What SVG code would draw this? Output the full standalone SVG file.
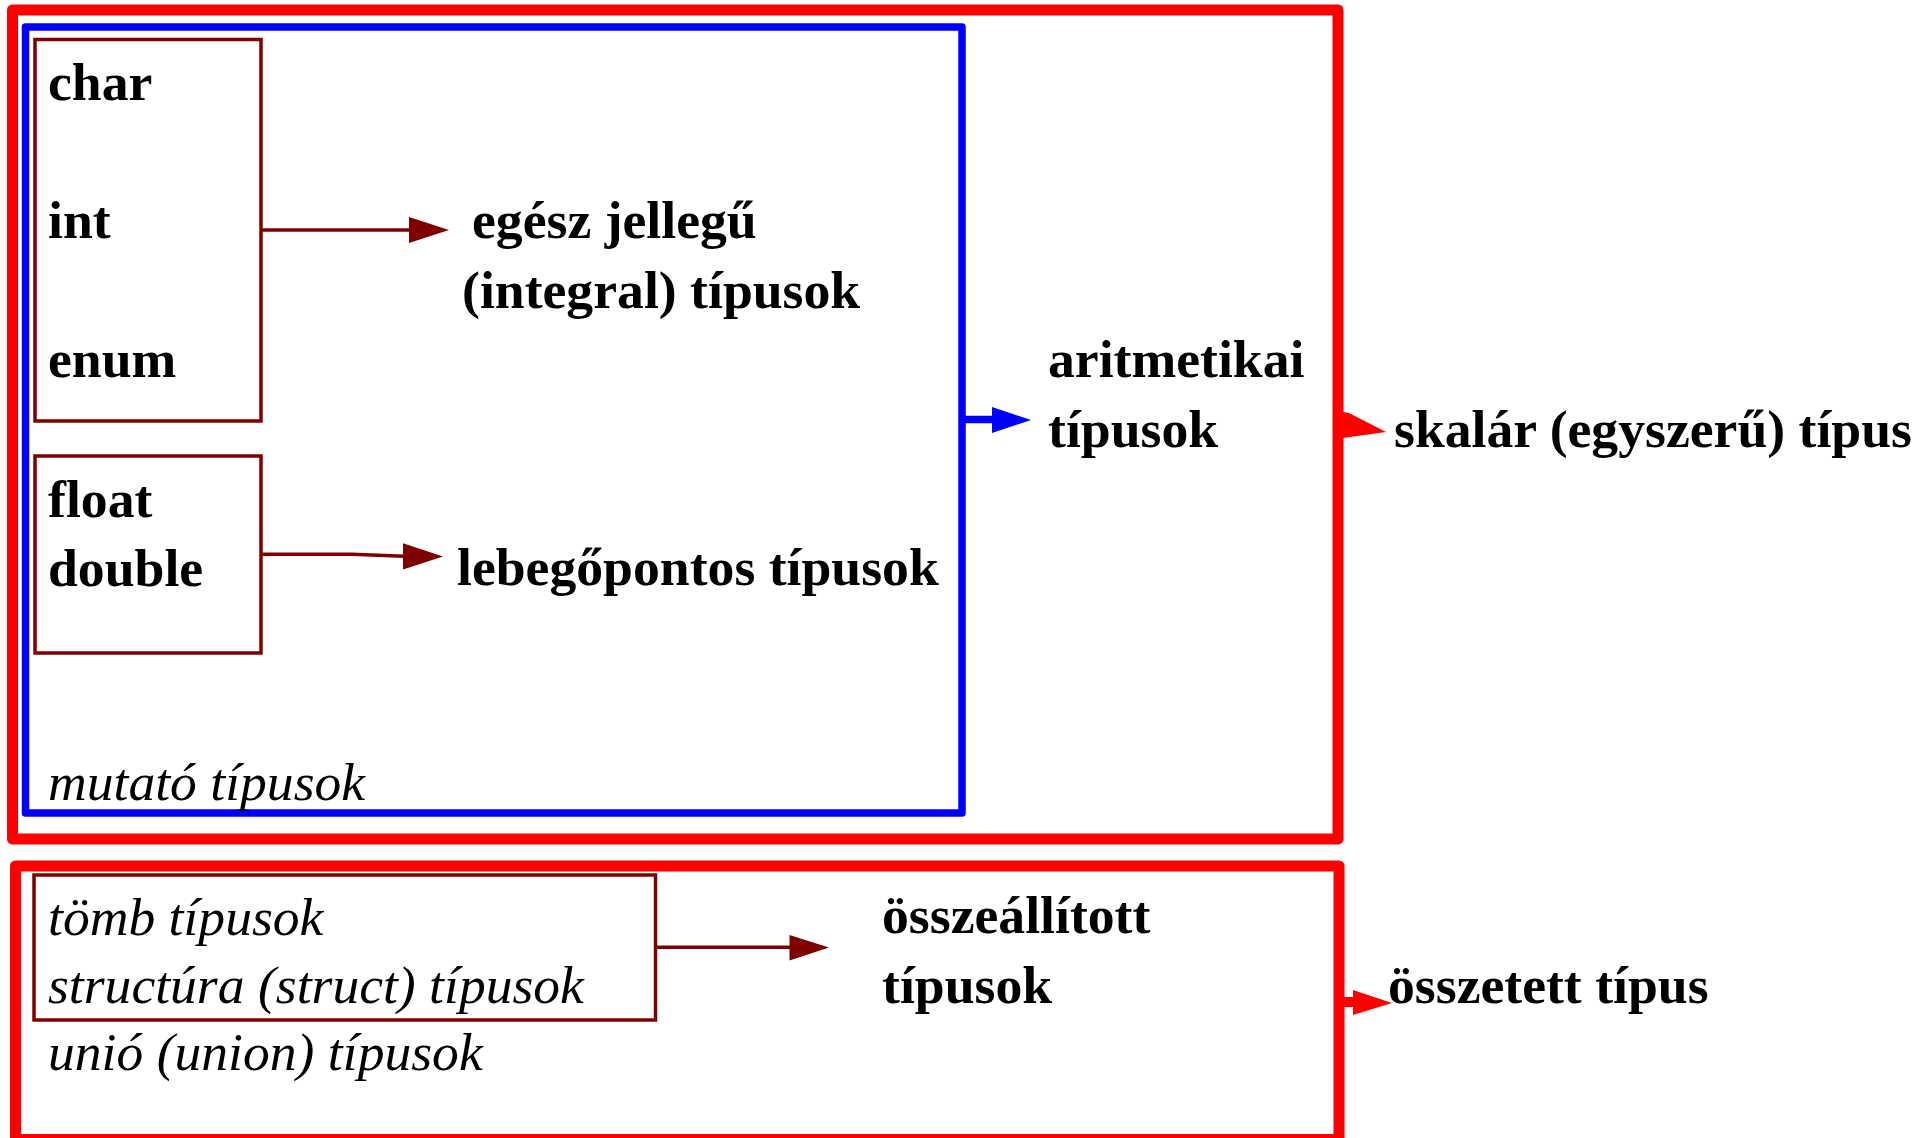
<svg xmlns="http://www.w3.org/2000/svg" width="1927" height="1138" viewBox="0 0 1927 1138">
<style>
.red{fill:none;stroke:#ff0000;stroke-width:11;stroke-linejoin:round}
.blue{fill:none;stroke:#0000ff;stroke-width:7.5;stroke-linejoin:round}
.mar{fill:none;stroke:#800000;stroke-width:3.5}
.b{font-family:"Liberation Serif","Times New Roman",serif;font-weight:bold;font-size:53.7px;fill:#000}
.i{font-family:"Liberation Serif","Times New Roman",serif;font-style:italic;font-size:53.6px;fill:#000}
</style>
<rect width="1927" height="1138" fill="#fff"/>
<g id="scalar-box"><rect class="red" x="12.5" y="10" width="1325.5" height="829"/></g>
<g id="composite-box"><rect class="red" x="15.5" y="866" width="1323.5" height="273.5"/></g>
<g id="arithmetic-box"><rect class="blue" x="25.5" y="27" width="936.5" height="786"/>
<text class="i" x="48" y="800">mutató típusok</text></g>
<g id="integral-box"><rect class="mar" x="35" y="39.5" width="226" height="381.5"/>
<text class="b" x="48" y="99.5">char</text>
<text class="b" x="48" y="238">int</text>
<text class="b" x="48" y="377">enum</text></g>
<g id="float-box"><rect class="mar" x="35" y="456" width="226" height="197"/>
<text class="b" x="48" y="517">float</text>
<text class="b" x="48" y="586">double</text></g>
<g id="aggregate-box"><rect class="mar" x="34" y="875" width="621.5" height="145"/>
<text class="i" x="48" y="935">tömb típusok</text>
<text class="i" x="48" y="1003">structúra (struct) típusok</text></g>
<g id="union-label"><text class="i" x="48" y="1070">unió (union) típusok</text></g>
<g id="integral-label"><text class="b" x="472" y="238">egész jellegű</text>
<text class="b" x="462" y="308">(integral) típusok</text></g>
<g id="float-label"><text class="b" x="457" y="585">lebegőpontos típusok</text></g>
<g id="arith-label"><text class="b" x="1048" y="377">aritmetikai</text>
<text class="b" x="1048" y="447">típusok</text></g>
<g id="scalar-label"><text class="b" x="1394" y="447">skalár (egyszerű) típus</text></g>
<g id="assembled-label"><text class="b" x="882" y="933">összeállított</text>
<text class="b" x="882" y="1003">típusok</text></g>
<g id="composite-label"><text class="b" x="1388" y="1003">összetett típus</text></g>
<g id="connectors">
<path class="mar" d="M261 230H410"/>
<polygon fill="#800000" points="409,217 449,230 409,243"/>
<path class="mar" d="M261 554.3H352L404 556.3"/>
<polygon fill="#800000" points="403,543.3 443,556.5 403,569.5"/>
<path class="mar" d="M655.5 947.3H790"/>
<polygon fill="#800000" points="789.5,935 829,947.5 789.5,960.5"/>
<path fill="none" stroke="#0000ff" stroke-width="7.5" d="M962 419.5H993"/>
<polygon fill="#0000ff" points="992,407 1031,420 992,433"/>
<path fill="none" stroke="#ff0000" stroke-width="10" d="M1338 425H1350"/>
<polygon fill="#ff0000" points="1343,412 1349,413 1386,432 1343,438"/>
<path fill="none" stroke="#ff0000" stroke-width="10" d="M1339 1002H1354"/>
<polygon fill="#ff0000" points="1353,990 1392,1003 1353,1015"/>
</g>
</svg>
